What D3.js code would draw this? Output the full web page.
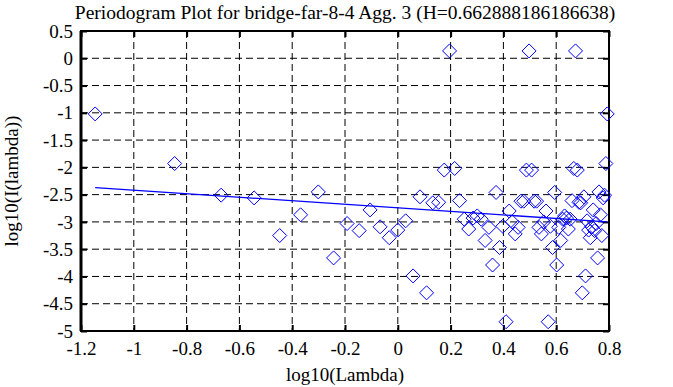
<!DOCTYPE html>
<html>
<head>
<meta charset="utf-8">
<style>
  body { margin: 0px; background: white; }
  svg { display: block; }
  text { font-family: "Liberation Serif", "Times New Roman", serif; fill: black; }
</style>
<script src="https://cdn.jsdelivr.net/npm/d3@7"></script>
</head>
<body>
<svg></svg>
<script>
const titleText = "Periodogram Plot for bridge-far-8-4 Agg. 3 (H=0.662888186186638)";
const xLabel = "log10(Lambda)";
const yLabel = "log10(I(lambda))";

const xTicks = [-1.2, -1, -0.8, -0.6, -0.4, -0.2, 0, 0.2, 0.4, 0.6, 0.8];
const yTicks = [0.5, 0, -0.5, -1, -1.5, -2, -2.5, -3, -3.5, -4, -4.5, -5];

// log10(lambda) for each periodogram point
const logLambda = [
  -1.1463, -0.8453, -0.6692, -0.5442, -0.4473, -0.3682, -0.3012, -0.2432, -0.1921, -0.1463,
  -0.1049, -0.0671, -0.0324, -0.0002, 0.0298, 0.0578, 0.0842, 0.1090, 0.1325, 0.1547,
  0.1759, 0.1961, 0.2154, 0.2339, 0.2516, 0.2687, 0.2851, 0.3009, 0.3161, 0.3308,
  0.3451, 0.3589, 0.3722, 0.3852, 0.3978, 0.4100, 0.4219, 0.4335, 0.4448, 0.4558,
  0.4665, 0.4770, 0.4872, 0.4972, 0.5069, 0.5165, 0.5258, 0.5349, 0.5439, 0.5527,
  0.5613, 0.5697, 0.5780, 0.5861, 0.5941, 0.6019, 0.6096, 0.6171, 0.6246, 0.6319,
  0.6390, 0.6461, 0.6530, 0.6599, 0.6666, 0.6732, 0.6798, 0.6862, 0.6926, 0.6988,
  0.7050, 0.7110, 0.7170, 0.7229, 0.7288, 0.7345, 0.7402, 0.7458, 0.7513, 0.7568,
  0.7622, 0.7675, 0.7728, 0.7780, 0.7831, 0.7882, 0.7932
];
// log10(I(lambda))
const logI = [
  -1.02, -1.93, -2.51, -2.56, -3.25, -2.87, -2.45, -3.66, -3.03, -3.16,
  -2.78, -3.09, -3.29, -3.15, -2.98, -3.99, -2.54, -4.30, -2.65, -2.64,
  -2.05, 0.135, -2.02, -2.61, -2.95, -3.13, -2.93, -2.89, -2.95, -3.34,
  -3.10, -3.79, -2.46, -3.47, -3.08, -4.83, -2.80, -3.00, -3.22, -3.10,
  -2.62, -2.62, -2.05, 0.135, -2.05, -2.62, -2.62, -3.10, -3.22, -3.00,
  -2.80, -4.83, -3.08, -3.47, -2.46, -3.79, -3.10, -3.34, -2.95, -2.89,
  -2.93, -3.13, -2.95, -2.61, -2.02, 0.135, -2.05, -2.64, -2.65, -4.30,
  -2.54, -3.99, -2.98, -3.15, -3.29, -3.09, -2.78, -3.16, -3.03, -3.66,
  -2.45, -2.87, -3.25, -2.56, -2.51, -1.93, -1.02
];
// least squares line end points
const fitX = [-1.1463, 0.7932];
const fitY = [-2.37, -3.00];

const width = 673, height = 387;
const margin = {left: 81, right: 64, top: 31, bottom: 56};
const fontSize = 19;

const svg = d3.select("svg").attr("width", width).attr("height", height);

const x = d3.scaleLinear().domain([-1.2, 0.8]).range([margin.left, width - margin.right]);
const y = d3.scaleLinear().domain([-5, 0.5]).range([height - margin.bottom, margin.top]);

const x0 = x.range()[0], x1 = x.range()[1], y0 = y.range()[0], y1 = y.range()[1];
const fmt = d => String(d);

// grid
svg.append("g").selectAll("line").data(xTicks.slice(1, -1)).join("line")
  .attr("x1", d => x(d)).attr("x2", d => x(d)).attr("y1", y1).attr("y2", y0)
  .attr("stroke", "black").attr("stroke-dasharray", "7,4");
svg.append("g").selectAll("line").data(yTicks.slice(1, -1)).join("line")
  .attr("x1", x0).attr("x2", x1).attr("y1", d => y(d)).attr("y2", d => y(d))
  .attr("stroke", "black").attr("stroke-dasharray", "7,4");

// axes with inward ticks
const tk = 6;
svg.append("g").attr("transform", `translate(0,${y0})`)
  .call(d3.axisBottom(x).tickValues(xTicks).tickSize(-tk).tickPadding(11).tickFormat(fmt))
  .call(g => g.select(".domain").remove());
svg.append("g").attr("transform", `translate(0,${y1})`)
  .call(d3.axisTop(x).tickValues(xTicks).tickSize(-tk).tickFormat(""))
  .call(g => g.select(".domain").remove());
svg.append("g").attr("transform", `translate(${x0},0)`)
  .call(d3.axisLeft(y).tickValues(yTicks).tickSize(-tk).tickPadding(8).tickFormat(fmt))
  .call(g => g.select(".domain").remove());
svg.append("g").attr("transform", `translate(${x1},0)`)
  .call(d3.axisRight(y).tickValues(yTicks).tickSize(-tk).tickFormat(""))
  .call(g => g.select(".domain").remove());

svg.selectAll(".tick line").attr("stroke", "black").attr("stroke-width", 2);
svg.selectAll(".tick text").attr("font-size", fontSize)
  .style("font-family", "'Liberation Serif', serif").attr("fill", "black");

svg.append("rect")
  .attr("x", x0).attr("y", y1).attr("width", x1 - x0).attr("height", y0 - y1)
  .attr("fill", "none").attr("stroke", "black").attr("stroke-width", 2);
svg.append("line")
  .attr("x1", x0).attr("x2", x0).attr("y1", y1).attr("y2", y0)
  .attr("stroke", "black").attr("stroke-width", 3);

// fit line
svg.append("path")
  .datum(d3.zip(fitX, fitY))
  .attr("d", d3.line().x(d => x(d[0])).y(d => y(d[1])))
  .attr("stroke", "blue").attr("stroke-width", 1.3).attr("fill", "none");

// points
const r = 7;
svg.append("g").selectAll("path").data(d3.zip(logLambda, logI)).join("path")
  .attr("transform", d => `translate(${x(d[0])},${y(d[1])})`)
  .attr("d", `M0,${-r}L${r},0L0,${r}L${-r},0Z`)
  .attr("fill", "none").attr("stroke", "blue").attr("stroke-width", 1);

// labels
svg.append("text").attr("x", (x0 + x1) / 2).attr("y", 19)
  .attr("text-anchor", "middle").attr("font-size", fontSize + 0.5).text(titleText);
svg.append("text").attr("x", (x0 + x1) / 2).attr("y", 381)
  .attr("text-anchor", "middle").attr("font-size", fontSize).text(xLabel);
svg.append("text").attr("transform", `translate(18,${(y0 + y1) / 2}) rotate(-90)`)
  .attr("text-anchor", "middle").attr("font-size", fontSize).text(yLabel);
</script>
</body>
</html>
